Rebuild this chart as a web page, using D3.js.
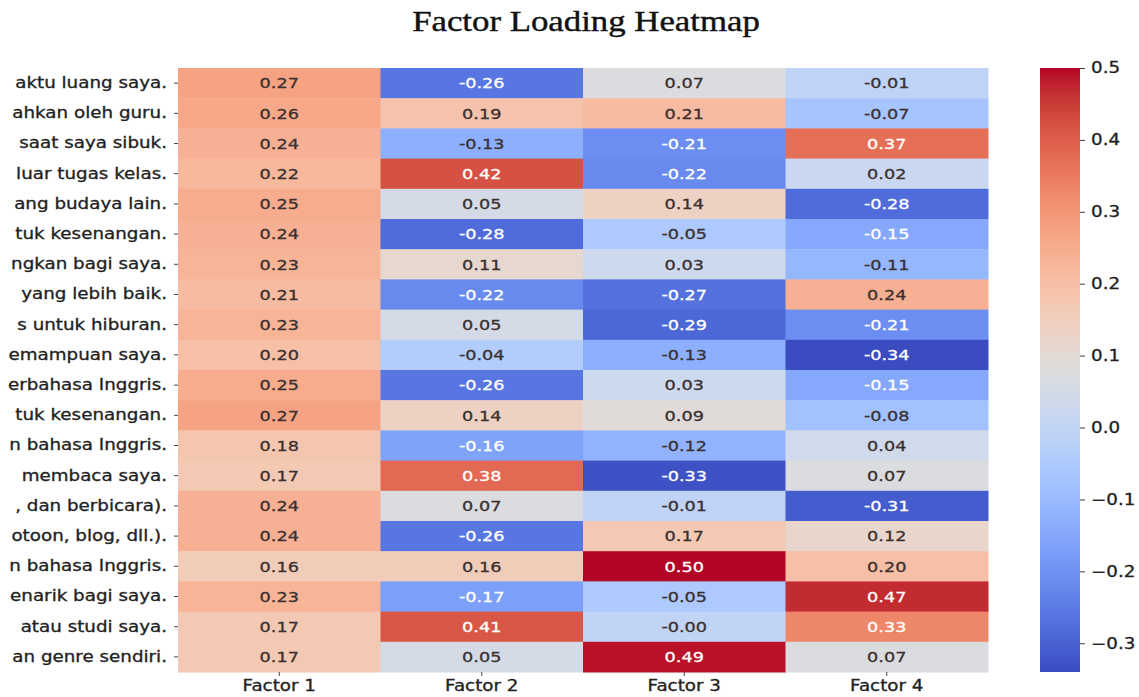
<!DOCTYPE html>
<html>
<head>
<meta charset="utf-8">
<script src="https://cdn.jsdelivr.net/npm/d3@7"></script>
<style>
  body { margin: 0; background: #fff; }
  text { font-family: "DejaVu Sans", sans-serif; }
</style>
</head>
<body>
<div id="chart"></div>
<script>
// row labels (cut off at the left edge like the source image)
const items = [
  'aktu luang saya.', 'ahkan oleh guru.', 'saat saya sibuk.', 'luar tugas kelas.',
  'ang budaya lain.', 'tuk kesenangan.', 'ngkan bagi saya.', 'yang lebih baik.',
  's untuk hiburan.', 'emampuan saya.', 'erbahasa Inggris.', 'tuk kesenangan. ',
  'n bahasa Inggris.', 'membaca saya.', ', dan berbicara).', 'otoon, blog, dll.).',
  'n bahasa Inggris. ', 'enarik bagi saya.', 'atau studi saya.', 'an genre sendiri.'
]
const factors = ['Factor 1', 'Factor 2', 'Factor 3', 'Factor 4']

const factor1 = [0.27, 0.26, 0.24, 0.22, 0.25, 0.24, 0.23, 0.21, 0.23, 0.20, 0.25, 0.27, 0.18, 0.17, 0.24, 0.24, 0.16, 0.23, 0.17, 0.17]
const factor2 = [-0.26, 0.19, -0.13, 0.42, 0.05, -0.28, 0.11, -0.22, 0.05, -0.04, -0.26, 0.14, -0.16, 0.38, 0.07, -0.26, 0.16, -0.17, 0.41, 0.05]
const factor3 = [0.07, 0.21, -0.21, -0.22, 0.14, -0.05, 0.03, -0.27, -0.29, -0.13, 0.03, 0.09, -0.12, -0.33, -0.01, 0.17, 0.50, -0.05, -0.004, 0.49]
const factor4 = [-0.01, -0.07, 0.37, 0.02, -0.28, -0.15, -0.11, 0.24, -0.21, -0.34, -0.15, -0.08, 0.04, 0.07, -0.31, 0.12, 0.20, 0.47, 0.33, 0.07]

const cbarTicks = [-0.3, -0.2, -0.1, 0.0, 0.1, 0.2, 0.3, 0.4, 0.5]

// matplotlib "coolwarm" samples
const coolwarm = ['#3b4cc0', '#445acc', '#4d68d7', '#5775e1', '#6282ea', '#6c8ef1', '#779af7', '#82a5fb',
  '#8db0fe', '#98b9ff', '#a3c2ff', '#aec9fd', '#b8d0f9', '#c2d5f4', '#ccd9ee', '#d5dbe6', '#dddddd',
  '#e5d8d1', '#ecd3c5', '#f1ccb9', '#f5c4ad', '#f7bba0', '#f7b194', '#f7a687', '#f49a7b', '#f18d6f',
  '#ec7f63', '#e57058', '#de604d', '#d55042', '#cb3e38', '#c0282f', '#b40426']

const series = [factor1, factor2, factor3, factor4]
const cells = []
items.forEach((it, i) => {
  factors.forEach((f, j) => cells.push({ item: it, factor: f, value: series[j][i] }))
})

const W = 1139, H = 697
const mLeft = 178, mRight = 988, mTop = 68, mBottom = 672
const sx = 1.22 // source picture is stretched sideways

const svg = d3.select('#chart').append('svg')
  .attr('width', W).attr('height', H)

const x = d3.scaleBand().domain(factors).range([mLeft, mRight])
const y = d3.scaleBand().domain(items).range([mTop, mBottom])

const vmin = d3.min(cells, d => d.value)
const vmax = d3.max(cells, d => d.value)
const interp = d3.piecewise(d3.interpolateRgb, coolwarm)
const color = v => interp((v - vmin) / (vmax - vmin))

function lum(c) {
  const rgb = d3.rgb(c)
  const f = v => { v = v / 255; return v <= 0.03928 ? v / 12.92 : Math.pow((v + 0.055) / 1.055, 2.4) }
  return 0.2126 * f(rgb.r) + 0.7152 * f(rgb.g) + 0.0722 * f(rgb.b)
}

// turn x/y of text into a translate + horizontal stretch
function stretch(sel, k) {
  sel.each(function () {
    const t = d3.select(this)
    const tx = +t.attr('x') || 0, ty = +t.attr('y') || 0
    t.attr('x', 0).attr('y', 0).attr('transform', `translate(${tx},${ty}) scale(${k},1)`)
  })
}

// title
svg.append('text')
  .attr('x', (mLeft + mRight) / 2 + 3)
  .attr('y', 31)
  .attr('text-anchor', 'middle')
  .style('font-family', '"Liberation Serif", "Times New Roman", serif')
  .style('font-size', '29px')
  .style('fill', '#111')
  .style('stroke', '#111').style('stroke-width', 0.4)
  .text('Factor Loading Heatmap')
  .call(stretch, 1.2)

// cells
svg.append('g').selectAll('rect')
  .data(cells)
  .enter()
  .append('rect')
  .attr('x', d => x(d.factor))
  .attr('y', d => y(d.item))
  .attr('width', x.bandwidth() + 0.5)
  .attr('height', y.bandwidth() + 0.5)
  .style('fill', d => color(d.value))

svg.append('g').selectAll('text')
  .data(cells)
  .enter()
  .append('text')
  .attr('x', d => x(d.factor) + x.bandwidth() / 2)
  .attr('y', d => y(d.item) + y.bandwidth() / 2)
  .attr('dy', '0.36em')
  .attr('text-anchor', 'middle')
  .style('font-size', '14.5px')
  .style('fill', d => lum(color(d.value)) > 0.408 ? '#3a3030' : '#fff')
  .style('stroke', d => lum(color(d.value)) > 0.408 ? '#3a3030' : '#fff')
  .style('stroke-width', 0.3)
  .text(d => d.value.toFixed(2))
  .call(stretch, sx)

// axes
const xAxis = svg.append('g')
  .attr('transform', `translate(0,${mBottom})`)
  .call(d3.axisBottom(x).tickSize(4).tickPadding(4))
xAxis.select('.domain').remove()
xAxis.selectAll('text').style('font-size', '15px').style('fill', '#222')
  .style('stroke', '#222').style('stroke-width', 0.3).call(stretch, sx)
xAxis.selectAll('line').style('stroke', '#444')

const yAxis = svg.append('g')
  .attr('transform', `translate(${mLeft},0)`)
  .call(d3.axisLeft(y).tickSize(4).tickPadding(7))
yAxis.select('.domain').remove()
yAxis.selectAll('text').style('font-size', '15px').style('fill', '#222')
  .style('stroke', '#222').style('stroke-width', 0.3).call(stretch, sx)
yAxis.selectAll('line').style('stroke', '#444')

// colorbar
const cbX = 1040, cbW = 40
const cy = d3.scaleLinear().domain([vmin, vmax]).range([mBottom, mTop])

const grad = svg.append('defs').append('linearGradient')
  .attr('id', 'cbar').attr('x1', 0).attr('x2', 0).attr('y1', 1).attr('y2', 0)
grad.selectAll('stop')
  .data(d3.range(0, 1.0001, 0.02))
  .enter()
  .append('stop')
  .attr('offset', d => d)
  .attr('stop-color', d => interp(d))

svg.append('rect')
  .attr('x', cbX).attr('y', mTop)
  .attr('width', cbW).attr('height', mBottom - mTop)
  .style('fill', 'url(#cbar)')

const cAxis = svg.append('g')
  .attr('transform', `translate(${cbX + cbW},0)`)
  .call(d3.axisRight(cy).tickValues(cbarTicks).tickFormat(d3.format('.1f')).tickSize(5).tickPadding(6))
cAxis.select('.domain').remove()
cAxis.selectAll('text').style('font-size', '15px').style('fill', '#222')
  .style('stroke', '#222').style('stroke-width', 0.3).call(stretch, sx)
cAxis.selectAll('line').style('stroke', '#444')
</script>
</body>
</html>
